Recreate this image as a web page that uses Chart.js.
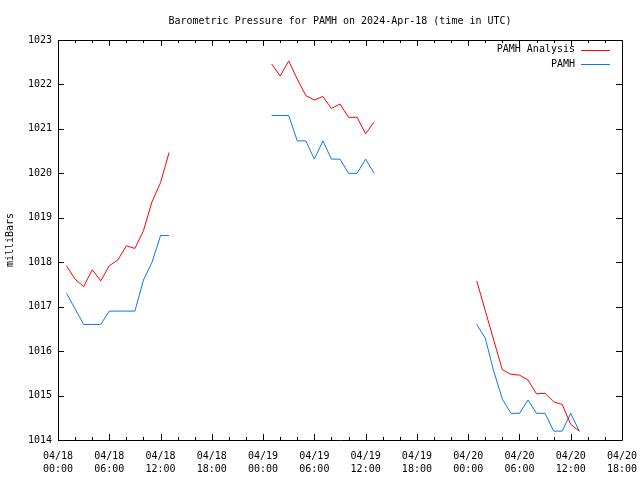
<!DOCTYPE html>
<html>
<head>
<meta charset="utf-8">
<script src="https://cdn.jsdelivr.net/npm/chart.js@4.4.1/dist/chart.umd.min.js"></script>
<style>
  body { margin: 0; background: #fff; }
  #wrap { width: 640px; height: 480px; }
</style>
</head>
<body>
<div id="wrap"><canvas id="pressChart" width="640" height="480"></canvas></div>
<script>
// hours since 2024-04-18 00:00 UTC
const times = [1, 2, 3, 4, 5, 6, 7, 8, 9, 10, 11, 12, 13,
               25, 26, 27, 28, 29, 30, 31, 32, 33, 34, 35, 36, 37,
               49, 50, 51, 52, 53, 54, 55, 56, 57, 58, 59, 60, 61];
const analysis = [1017.92, 1017.62, 1017.45, 1017.83, 1017.58, 1017.92, 1018.05, 1018.37, 1018.31, 1018.71, 1019.36, 1019.79, 1020.47,
                  1022.46, 1022.19, 1022.53, 1022.12, 1021.75, 1021.65, 1021.73, 1021.46, 1021.56, 1021.26, 1021.26, 1020.89, 1021.16,
                  1017.58, 1016.91, 1016.24, 1015.58, 1015.48, 1015.46, 1015.35, 1015.04, 1015.05, 1014.86, 1014.80, 1014.35, 1014.20];
const observed = [1017.30, 1016.95, 1016.60, 1016.60, 1016.60, 1016.90, 1016.90, 1016.90, 1016.90, 1017.60, 1018.00, 1018.60, 1018.60,
                  1021.30, 1021.30, 1021.30, 1020.73, 1020.73, 1020.32, 1020.73, 1020.32, 1020.32, 1020.00, 1020.00, 1020.32, 1020.00,
                  1016.60, 1016.29, 1015.54, 1014.92, 1014.60, 1014.60, 1014.90, 1014.60, 1014.60, 1014.20, 1014.20, 1014.60, 1014.20];
const yTicks = [1014, 1015, 1016, 1017, 1018, 1019, 1020, 1021, 1022, 1023];
const xMajor = [0, 6, 12, 18, 24, 30, 36, 42, 48, 54, 60, 66];

const monoFont = { family: 'DejaVu Sans Mono', size: 10 };

// turn arrays into points, break the line where hours are missing
function toPoints(vals) {
    const pts = [];
    for (let i = 0; i < times.length; i++) {
        if (i > 0 && times[i] - times[i - 1] > 1) {
            pts.push({ x: times[i - 1] + 1, y: null });
        }
        pts.push({ x: times[i], y: vals[i] });
    }
    return pts;
}

function pad(n) { return (n < 10 ? '0' : '') + n; }

// gnuplot style frame with inward ticks, plus the legend
const framePlugin = {
    id: 'frame',
    afterDraw(chart) {
        const c = chart.ctx;
        const a = chart.chartArea;
        const xs = chart.scales.x, ys = chart.scales.y;
        c.save();
        c.strokeStyle = '#000';
        c.lineWidth = 1;
        c.beginPath();
        c.rect(Math.round(a.left) + 0.5, Math.round(a.top) + 0.5,
               Math.round(a.right - a.left), Math.round(a.bottom - a.top));
        c.stroke();

        c.beginPath();
        yTicks.forEach(v => {
            const py = Math.round(ys.getPixelForValue(v)) + 0.5;
            c.moveTo(a.left, py); c.lineTo(a.left + 6, py);
            c.moveTo(a.right, py); c.lineTo(a.right - 6, py);
        });
        for (let h = 0; h <= 66; h += 2) {
            const px = Math.round(xs.getPixelForValue(h)) + 0.5;
            const len = (h % 6 === 0) ? 6 : 3;
            c.moveTo(px, a.bottom); c.lineTo(px, a.bottom - len);
            c.moveTo(px, a.top); c.lineTo(px, a.top + len);
        }
        c.stroke();

        // legend
        c.font = '10px "DejaVu Sans Mono"';
        c.fillStyle = '#000';
        c.textAlign = 'right';
        c.textBaseline = 'middle';
        chart.data.datasets.forEach((ds, i) => {
            const ly = 49.5 + i * 14.5;
            c.fillText(ds.label, a.right - 47, ly);
            c.strokeStyle = ds.borderColor;
            c.beginPath();
            c.moveTo(a.right - 41, Math.round(ly) + 0.5);
            c.lineTo(a.right - 12, Math.round(ly) + 0.5);
            c.stroke();
        });
        c.restore();
    }
};

const ctx = document.getElementById('pressChart').getContext('2d');
new Chart(ctx, {
    type: 'scatter',
    data: {
        datasets: [{
            label: 'PAMH Analysis',
            data: toPoints(analysis),
            showLine: true,
            spanGaps: false,
            borderColor: '#ff0000',
            borderWidth: 1,
            pointRadius: 0
        }, {
            label: 'PAMH',
            data: toPoints(observed),
            showLine: true,
            spanGaps: false,
            borderColor: '#0a78e6',
            borderWidth: 1,
            pointRadius: 0
        }]
    },
    options: {
        responsive: false,
        animation: false,
        layout: { padding: { left: 0, right: 18, top: 0, bottom: 0 } },
        plugins: {
            legend: { display: false },
            tooltip: { enabled: false },
            title: {
                display: true,
                fullSize: false,
                text: 'Barometric Pressure for PAMH on 2024-Apr-18 (time in UTC)',
                color: '#000',
                font: { family: 'DejaVu Sans Mono', size: 10, weight: 'normal' },
                padding: { top: 15, bottom: 13 }
            }
        },
        scales: {
            x: {
                type: 'linear',
                min: 0,
                max: 66,
                afterBuildTicks: s => { s.ticks = xMajor.map(v => ({ value: v })); },
                afterFit: s => { s.height = 40; s.paddingLeft = 0; s.paddingRight = 0; },
                grid: { display: false, drawTicks: false },
                border: { display: false },
                ticks: {
                    autoSkip: false,
                    maxRotation: 0,
                    padding: 10,
                    color: '#000',
                    font: { family: 'DejaVu Sans Mono', size: 10, lineHeight: 1.3 },
                    callback: v => {
                        const day = 18 + Math.floor(v / 24);
                        return ['04/' + pad(day), pad(v % 24) + ':00'];
                    }
                }
            },
            y: {
                min: 1014,
                max: 1023,
                afterBuildTicks: s => { s.ticks = yTicks.map(v => ({ value: v })); },
                afterFit: s => { s.width = 58; s.paddingTop = 0; s.paddingBottom = 0; },
                grid: { display: false, drawTicks: false },
                border: { display: false },
                title: {
                    display: true,
                    text: 'milliBars',
                    color: '#000',
                    font: monoFont,
                    padding: { top: 4, bottom: 4 }
                },
                ticks: {
                    padding: 6,
                    color: '#000',
                    font: monoFont,
                    callback: v => String(v)
                }
            }
        }
    },
    plugins: [framePlugin]
});
</script>
</body>
</html>
